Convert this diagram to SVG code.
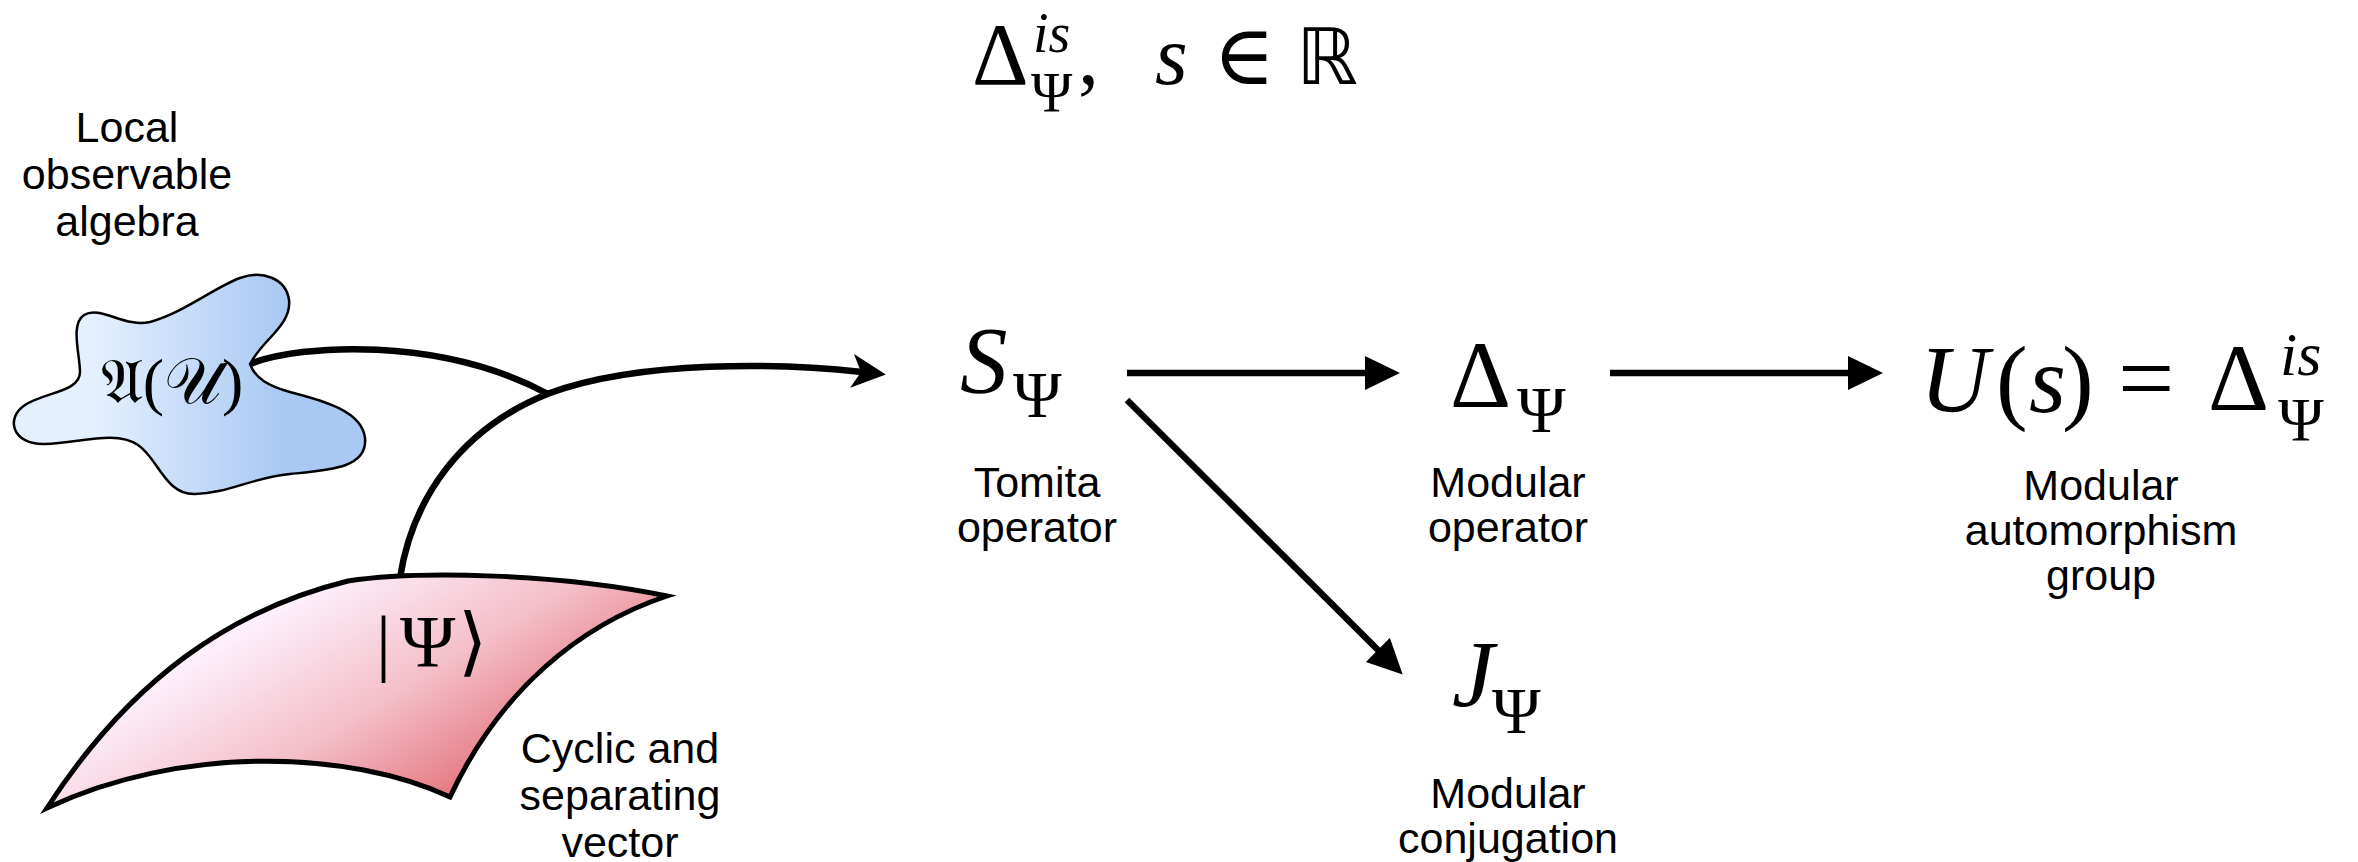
<svg xmlns="http://www.w3.org/2000/svg" width="2358" height="862" viewBox="0 0 2358 862">
  <style>
    .lbl { font-family: "Liberation Sans", Arial, sans-serif; font-size: 43px; text-anchor: middle; fill: #000; }
    .m { font-family: "Liberation Serif", "DejaVu Serif", serif; fill: #000; }
    .it { font-style: italic; }
    .big { font-size: 95px; }
    .sub { font-size: 66px; }
    .wire { fill: none; stroke: #000; stroke-width: 6.5; }
  </style>
  <defs>
    <linearGradient id="blueFill" gradientUnits="userSpaceOnUse" x1="95" y1="0" x2="285" y2="0">
      <stop offset="0" stop-color="#e4f0ff"/>
      <stop offset="1" stop-color="#a9c8f3"/>
    </linearGradient>
    <linearGradient id="pinkFill" gradientUnits="userSpaceOnUse" x1="330" y1="575" x2="470" y2="805">
      <stop offset="0" stop-color="#fdf0fc"/>
      <stop offset="0.5" stop-color="#f4bfc9"/>
      <stop offset="1" stop-color="#e36f77"/>
    </linearGradient>
    <marker id="head" markerUnits="userSpaceOnUse" markerWidth="40" markerHeight="40" refX="3" refY="17" orient="auto">
      <path d="M0,0 L35,17 L0,34 Z" fill="#000"/>
    </marker>
    <marker id="swept" markerUnits="userSpaceOnUse" markerWidth="40" markerHeight="40" refX="10" refY="17" orient="auto">
      <path d="M0,0 L34,17 L0,34 L9,17 Z" fill="#000"/>
    </marker>
  </defs>

  <rect width="2358" height="862" fill="#fff"/>

  <!-- heading formula -->
  <g id="title" class="m">
    <text x="972" y="84" font-size="88">Δ</text>
    <text x="1033" y="52" font-size="56" class="it">is</text>
    <text x="1031" y="112" font-size="56">Ψ</text>
    <text x="1078" y="84" font-size="84">,</text>
    <text x="1155" y="84" font-size="84" class="it">s</text>
    <text x="1213" y="84" font-size="84">∈</text>
    <text x="1296" y="84" font-size="78" font-family="DejaVu Sans, sans-serif">ℝ</text>
  </g>

  <!-- connectors -->
  <g id="connectors">
    <path class="wire" d="M250,364 C300,344 440,336 548,394"/>
    <path class="wire" d="M400,578 C412,500 460,428 550,393 C640,360 780,363 862,372" marker-end="url(#swept)"/>
    <path class="wire" d="M1127,373 L1368,373" marker-end="url(#head)"/>
    <path class="wire" d="M1610,373 L1851,373" marker-end="url(#head)"/>
    <path class="wire" d="M1127,400 L1380,652" marker-end="url(#head)"/>
  </g>

  <!-- local observable algebra -->
  <g id="n-algebra">
    <path d="M250,364 C262,340 292,325 289,300 C286,278 262,270 240,278 C215,287 185,312 150,322 C125,328 100,305 84,315 C70,324 80,355 80,372 C80,392 45,392 25,405 C5,418 12,445 45,444 C80,443 115,430 138,445 C158,458 165,495 195,494 C230,493 250,478 290,474 C330,470 368,468 365,438 C362,410 320,400 290,392 C268,386 255,378 250,364 Z" fill="url(#blueFill)" stroke="#000" stroke-width="2.5"/>
    <text class="m" x="172" y="403" font-size="64" text-anchor="middle">𝔄(𝒰)</text>
    <text class="lbl" x="127" y="142">Local</text>
    <text class="lbl" x="127" y="189">observable</text>
    <text class="lbl" x="127" y="236">algebra</text>
  </g>

  <!-- cyclic and separating vector -->
  <g id="n-vector">
    <path d="M47,808 C130,680 230,610 348,581 C420,570 560,574 667,596 C580,625 500,690 450,797 C350,750 180,745 47,808 Z" fill="url(#pinkFill)" stroke="#000" stroke-width="5" stroke-linejoin="miter"/>
    <text class="m" x="376" y="667" font-size="75">|<tspan x="400">Ψ</tspan><tspan x="458">⟩</tspan></text>
    <text class="lbl" x="620" y="763">Cyclic and</text>
    <text class="lbl" x="620" y="810">separating</text>
    <text class="lbl" x="620" y="857">vector</text>
  </g>

  <!-- Tomita operator -->
  <g id="n-tomita">
    <text class="m big" x="960" y="393"><tspan class="it">S</tspan><tspan class="sub" x="1013" y="417">Ψ</tspan></text>
    <text class="lbl" x="1037" y="497">Tomita</text>
    <text class="lbl" x="1037" y="542">operator</text>
  </g>

  <!-- modular operator -->
  <g id="n-modular">
    <text class="m big" x="1450" y="407">Δ<tspan class="sub" x="1517" y="432">Ψ</tspan></text>
    <text class="lbl" x="1508" y="497">Modular</text>
    <text class="lbl" x="1508" y="542">operator</text>
  </g>

  <!-- modular automorphism group -->
  <g id="n-automorphism">
    <text class="m big" x="1920" y="412"><tspan class="it">U</tspan><tspan x="1996">(</tspan><tspan class="it" x="2029">s</tspan><tspan x="2062">)</tspan><tspan x="2118" font-size="100">=</tspan><tspan x="2208" y="410">Δ</tspan><tspan class="it" x="2280" y="375" font-size="62">is</tspan><tspan x="2278" y="440" font-size="62">Ψ</tspan></text>
    <text class="lbl" x="2101" y="500">Modular</text>
    <text class="lbl" x="2101" y="545">automorphism</text>
    <text class="lbl" x="2101" y="590">group</text>
  </g>

  <!-- modular conjugation -->
  <g id="n-conjugation">
    <text class="m big" x="1452" y="707"><tspan class="it">J</tspan><tspan class="sub" x="1492" y="733">Ψ</tspan></text>
    <text class="lbl" x="1508" y="808">Modular</text>
    <text class="lbl" x="1508" y="853">conjugation</text>
  </g>
</svg>
